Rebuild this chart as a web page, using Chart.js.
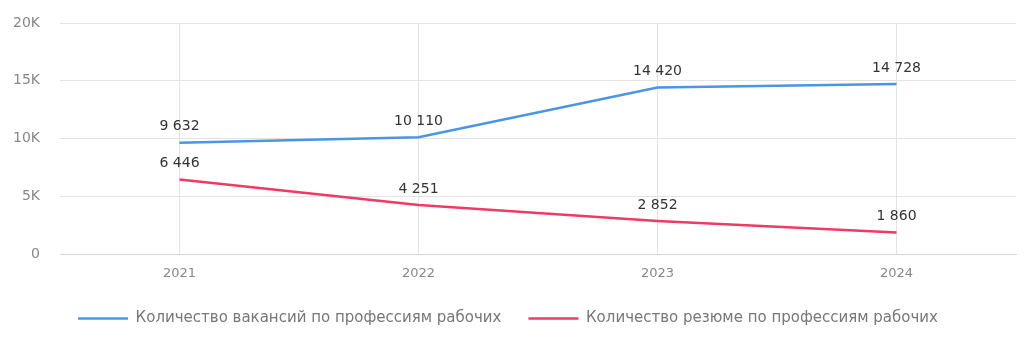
<!DOCTYPE html>
<html lang="ru">
<head>
    <meta charset="UTF-8">
    <title>Вакансии и резюме по профессиям рабочих</title>
    <script src="https://cdn.jsdelivr.net/npm/chart.js"></script>
    <style>
        body {
            margin: 0;
            padding: 0;
            background: #fff;
        }
        .container {
            width: 1031px;
            height: 344px;
            position: relative;
        }
    </style>
</head>
<body>
    <div class="container">
        <canvas id="grafico"></canvas>
    </div>
    <script>
        const anios = ['2021', '2022', '2023', '2024'];
        const vacantes = [9632, 10110, 14420, 14728];
        const resumenes = [6446, 4251, 2852, 1860];
        const nombreVacantes = 'Количество вакансий по профессиям рабочих';
        const nombreResumenes = 'Количество резюме по профессиям рабочих';
        const ticksY = [0, 5000, 10000, 15000, 20000];

        const azul = '#4a96e4';
        const rojo = '#ee3a64';
        const fuente = '"DejaVu Sans", sans-serif';

        function formatoNumero(v) {
            return String(v).replace(/\B(?=(\d{3})+(?!\d))/g, ' ');
        }

        // etiquetas de valor encima de cada punto
        const etiquetas = {
            id: 'etiquetas',
            afterDatasetsDraw(chart) {
                const ctx = chart.ctx;
                ctx.save();
                ctx.font = '14px ' + fuente;
                ctx.fillStyle = '#333';
                ctx.textAlign = 'center';
                ctx.textBaseline = 'middle';
                chart.data.datasets.forEach((ds, i) => {
                    chart.getDatasetMeta(i).data.forEach((p, j) => {
                        ctx.fillText(formatoNumero(ds.data[j]), p.x, p.y - 16);
                    });
                });
                ctx.restore();
            }
        };

        const ctx = document.getElementById('grafico').getContext('2d');
        new Chart(ctx, {
            type: 'line',
            data: {
                labels: anios,
                datasets: [
                    {
                        label: nombreVacantes,
                        data: vacantes,
                        borderColor: azul,
                        backgroundColor: azul,
                        borderWidth: 2.5,
                        pointRadius: 0,
                        pointStyle: 'line',
                        tension: 0
                    },
                    {
                        label: nombreResumenes,
                        data: resumenes,
                        borderColor: rojo,
                        backgroundColor: rojo,
                        borderWidth: 2.5,
                        pointRadius: 0,
                        pointStyle: 'line',
                        tension: 0
                    }
                ]
            },
            options: {
                responsive: true,
                maintainAspectRatio: false,
                animation: false,
                layout: {
                    padding: { top: 23, right: 15, left: 0, bottom: 8 }
                },
                plugins: {
                    tooltip: { enabled: false },
                    legend: {
                        position: 'bottom',
                        labels: {
                            usePointStyle: true,
                            pointStyleWidth: 50,
                            boxHeight: 15,
                            padding: 27,
                            color: '#777',
                            font: { family: fuente, size: 15 }
                        }
                    }
                },
                scales: {
                    x: {
                        offset: true,
                        grid: { color: '#e3e3e3', offset: false, drawTicks: false },
                        border: { color: '#d6d6d6' },
                        ticks: {
                            color: '#888',
                            padding: 12,
                            font: { family: fuente, size: 13 }
                        },
                        afterFit(scale) { scale.height = 30; }
                    },
                    y: {
                        min: 0,
                        max: 20000,
                        afterBuildTicks(scale) {
                            scale.ticks = ticksY.map(v => ({ value: v }));
                        },
                        grid: { color: '#e3e3e3', drawTicks: false },
                        border: { display: false },
                        ticks: {
                            color: '#888',
                            padding: 20,
                            font: { family: fuente, size: 14 },
                            callback: v => v === 0 ? '0' : (v / 1000) + 'K'
                        },
                        afterFit(scale) {
                            scale.width = 60;
                            scale.paddingTop = 0;
                            scale.paddingBottom = 0;
                        }
                    }
                }
            },
            plugins: [etiquetas]
        });
    </script>
</body>
</html>
